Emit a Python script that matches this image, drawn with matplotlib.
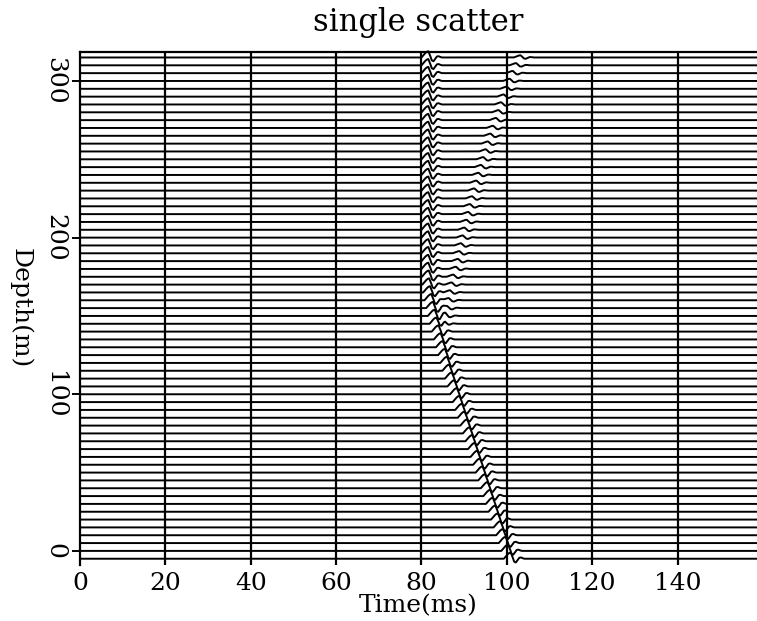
#!/usr/bin/env python3
# -*- coding: utf-8 -*-

"""
Wiggle display of a single-scatter VSP gather.
Saves out.png
"""

import numpy as np
import matplotlib
matplotlib.use("Agg")
import matplotlib.pyplot as plt

# ------------ DATA ------------
# receiver depths (m), one trace each
DEPTHS = list(range(-5, 320, 5))

# strong arrival onset (ms) per trace, bottom to top
T_STRONG = [99.3, 98.7, 98.1, 97.5, 96.9, 96.3, 95.7, 95.1, 94.5, 93.9,
            93.3, 92.7, 92.1, 91.5, 90.9, 90.3, 89.7, 89.1, 88.5, 87.9,
            87.3, 86.7, 86.1, 85.5, 84.9, 84.4, 83.9, 83.4, 82.9, 82.4,
            81.9, 81.5, 81.1, 80.7, 80.4, 80.2, 80.1, 80.0, 80.0, 80.0,
            80.0, 80.0, 80.0, 80.0, 80.0, 80.0, 80.0, 80.0, 80.0, 80.0,
            80.0, 80.0, 80.0, 80.0, 80.0, 80.0, 80.0, 80.0, 80.0, 80.0,
            80.0, 80.0, 80.0, 80.0, 80.0]

# weak scattered arrival onset (ms), only above ~145 m (None = absent)
T_WEAK = [None] * 30 + [
    83.6, 84.0, 84.4, 84.8, 85.1, 85.5, 85.9, 86.5, 87.0, 87.3,
    87.7, 88.1, 88.5, 89.0, 89.4, 89.8, 90.3, 90.8, 91.3, 91.8,
    92.4, 92.9, 93.5, 94.0, 94.6, 95.2, 95.9, 96.5, 97.1, 97.7,
    98.4, 99.1, 99.8, 100.6, 101.6]

AMP_STRONG = 1.0
AMP_WEAK = 0.35

# wavelet shape: time after onset (ms) and relative amplitude
WAVELET_T = [0.0, 0.4, 0.8, 1.2, 1.6, 2.0, 2.4, 2.8, 3.2, 3.6, 4.0, 4.4, 4.8]
WAVELET_A = [0.0, 0.3, 0.65, 0.9, 1.0, 0.35, -0.45, -0.6, -0.25, 0.15, 0.2, 0.08, 0.0]

XTICKS = [0, 20, 40, 60, 80, 100, 120, 140]
YTICKS = [0, 100, 200, 300]
# -------------------------------------------------------

TRACE_SCALE = 4.0   # metres of deflection per unit amplitude
FONT = "DejaVu Serif"
FS = 18


def wavelet_at(t, t0, amp):
    if t0 is None:
        return np.zeros_like(t)
    return amp * np.interp(t - t0, WAVELET_T, WAVELET_A, left=0.0, right=0.0)


def main():
    t = np.arange(0, 160.05, 0.05)

    fig = plt.figure(figsize=(7.57, 6.21), dpi=100)
    ax = fig.add_axes([80 / 757, 1 - 565 / 621, 1 - 80 / 757, (565 - 52) / 621])

    for z, ts, tw in zip(DEPTHS, T_STRONG, T_WEAK):
        trace = wavelet_at(t, ts, AMP_STRONG) + wavelet_at(t, tw, AMP_WEAK)
        ax.plot(t, z + TRACE_SCALE * trace, color="black", lw=1.4, clip_on=False)

    for x in XTICKS[1:]:
        ax.axvline(x, color="black", lw=1.6)

    ax.set_xlim(0, 158.6)
    ax.set_ylim(-9, 318.5)

    ax.spines["right"].set_visible(False)
    ax.spines["bottom"].set_visible(False)
    ax.spines["left"].set_linewidth(1.6)
    ax.spines["top"].set_linewidth(1.6)

    ax.set_xticks(XTICKS)
    ax.set_yticks(YTICKS)
    ax.tick_params(axis="x", length=0, pad=5, labelsize=FS)
    ax.tick_params(axis="y", length=6, width=1.4, pad=4, labelsize=FS)
    for lab in ax.get_xticklabels() + ax.get_yticklabels():
        lab.set_fontfamily(FONT)
    for lab in ax.get_yticklabels():
        lab.set_rotation(-90)
        lab.set_va("center")

    ax.set_xlabel("Time(ms)", fontsize=FS, fontfamily=FONT, va="center")
    ax.xaxis.set_label_coords(0.5, (565 - 606) / 513)
    ax.set_ylabel("Depth(m)", fontsize=FS, fontfamily=FONT, rotation=-90,
                  va="center", ha="center")
    ax.yaxis.set_label_coords(-60 / 677, 0.5)
    fig.text(418 / 757, 1 - 22 / 621, "single scatter", ha="center", va="center",
             fontsize=22, fontfamily=FONT)

    fig.savefig("out.png", dpi=100)
    plt.close(fig)


if __name__ == "__main__":
    main()
